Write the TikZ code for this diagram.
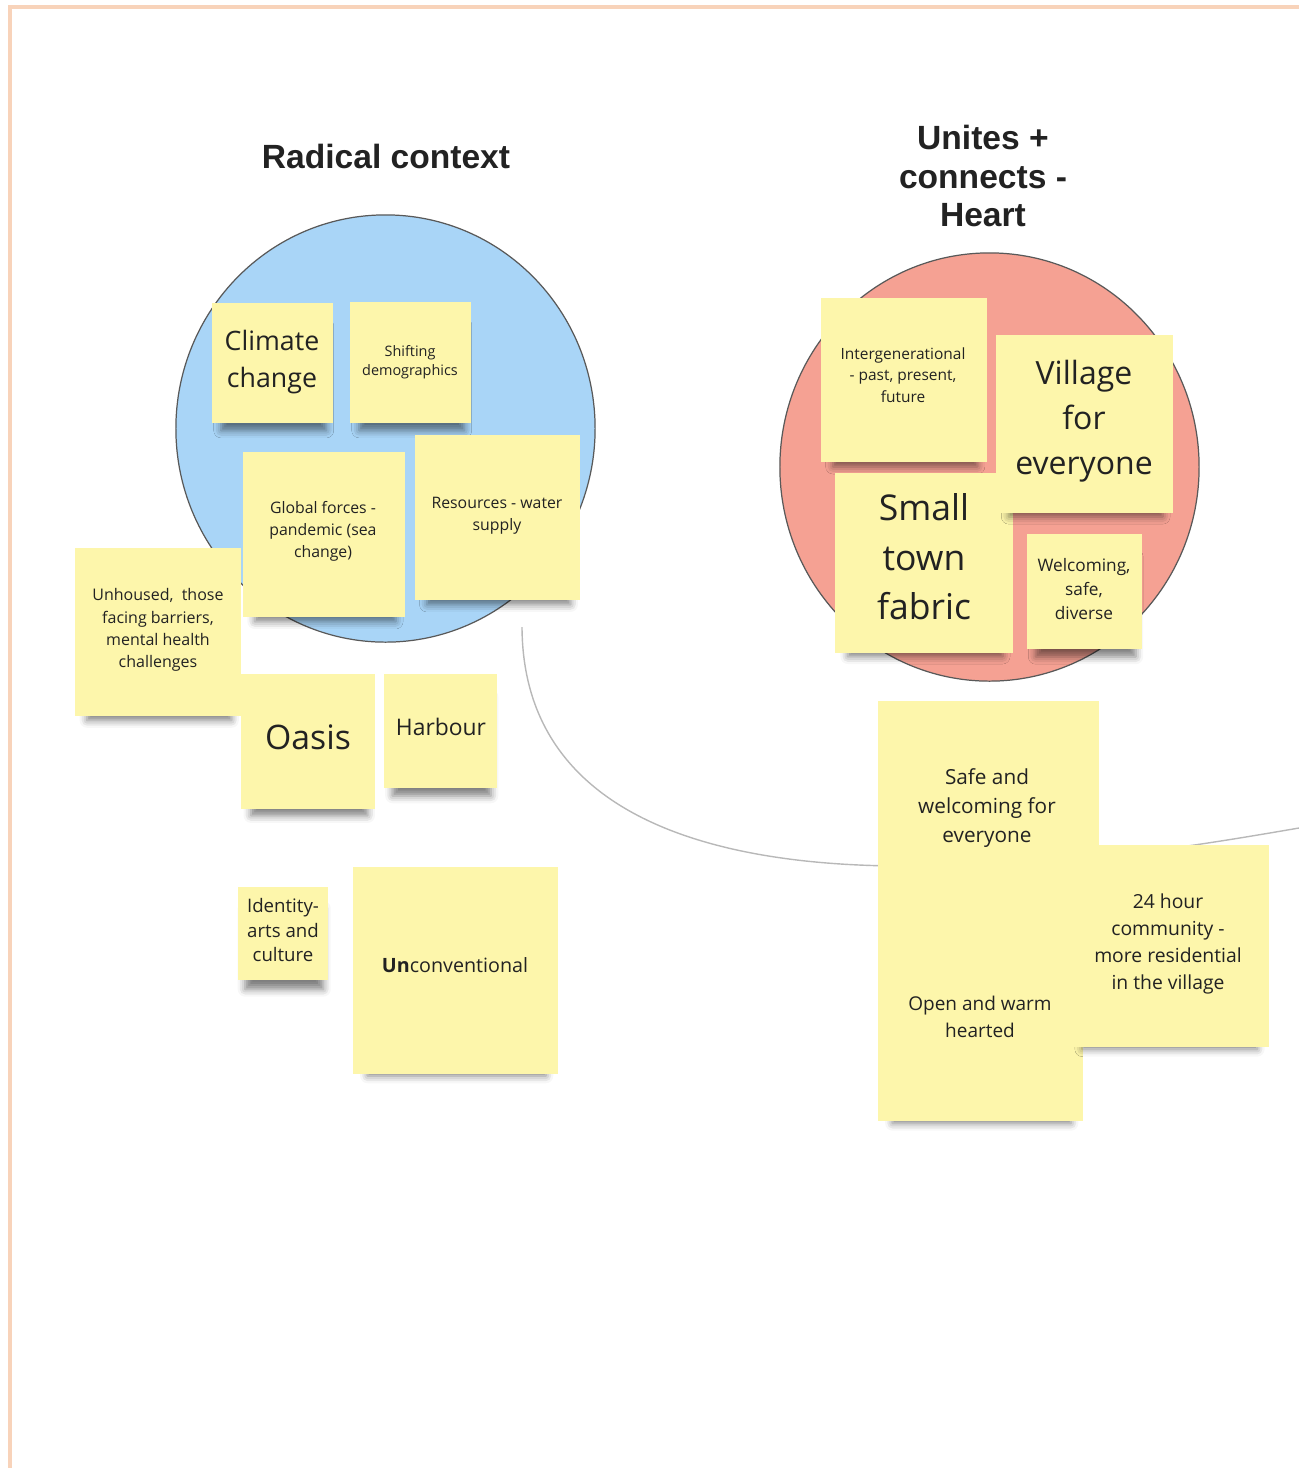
\documentclass[tikz,border=0pt]{standalone}
\usepackage{fontspec}
\setmainfont{Open Sans}
\newfontfamily\headfont{Liberation Sans}
\usetikzlibrary{shadows.blur,shapes.geometric}
\definecolor{noteyellow}{HTML}{FDF6AB}
\definecolor{ctxblue}{HTML}{A9D5F7}
\definecolor{heartred}{HTML}{F5A193}
\definecolor{framepeach}{HTML}{F8D3BA}
\definecolor{inkgray}{HTML}{222222}
\tikzset{
  flatnote/.style={fill=noteyellow, inner sep=0pt},
  note/.style={flatnote,
    blur shadow={shadow xshift=0.4pt, shadow yshift=-5pt, shadow scale=0.87,
                 shadow blur radius=2.4pt, shadow opacity=50}},
  notetext/.style={align=center, text=inkgray, inner sep=0pt},
  head/.style={align=center, text=inkgray, inner sep=0pt,
    font=\headfont\bfseries\fontsize{9.55}{11}\selectfont},
  bubble/.style={ellipse, inner sep=0pt, draw=black!65, line width=0.35pt},
  link/.style={draw=black!28, line width=0.4pt},
}
\begin{document}
\begin{tikzpicture}[x=0.01cm, y=-0.01cm]
  \useasboundingbox (0,0) rectangle (1299,1468);
  \draw[framepeach, line width=0.9pt] (10,1468) -- (10,7) -- (1299,7);

  % the two circles
  \node[bubble, fill=ctxblue, minimum width=4.19cm, minimum height=4.27cm] (radical) at (385.5,428.5) {};
  \node[bubble, fill=heartred, minimum width=4.19cm, minimum height=4.28cm] (heart) at (989.5,467) {};

  % connector, runs behind the notes and off the right edge
  \coordinate (ctx-foot) at (522,627);
  \coordinate (dip) at (900,866);
  \coordinate (edge-r) at (1299,828);
  \draw[link] (ctx-foot) .. controls (523,810) and (700,865) .. (dip)
    .. controls (1060,869) and (1200,845) .. (edge-r);

  % titles
  \node[head] (radical-head) at (386,156) {Radical context};
  \node[head] (heart-head) at (983,176) {Unites +\\connects -\\Heart};

  % radical context notes
  \node[note, minimum width=1.21cm, minimum height=1.20cm] (climate) at (272.5,363) {};
  \node[notetext, font=\fontsize{7.6}{10.5}\selectfont] (climate-t) at (272,362) {Climate\\change};
  \node[note, minimum width=1.21cm, minimum height=1.21cm] (shifting) at (410.5,362.5) {};
  \node[notetext, font=\fontsize{4.1}{5.5}\selectfont] (shifting-t) at (410,362) {Shifting\\demographics};
  \node[note, minimum width=1.62cm, minimum height=1.65cm] (global) at (324,534.5) {};
  \node[notetext, font=\fontsize{4.5}{6.25}\selectfont] (global-t) at (323,531) {Global forces -\\pandemic (sea\\change)};
  \node[note, minimum width=1.65cm, minimum height=1.65cm] (resources) at (497.5,517.5) {};
  \node[notetext, font=\fontsize{4.5}{6.25}\selectfont] (resources-t) at (497,516) {Resources - water\\supply};
  \node[note, minimum width=1.66cm, minimum height=1.68cm] (unhoused) at (158,632) {};
  \node[notetext, font=\fontsize{4.55}{6.35}\selectfont] (unhoused-t) at (158,630) {Unhoused,\ \ those\\facing barriers,\\mental health\\challenges};
  \node[note, minimum width=1.34cm, minimum height=1.35cm] (oasis) at (308,741.5) {};
  \node[notetext, font=\fontsize{9.6}{13}\selectfont] (oasis-t) at (308,737) {Oasis};
  \node[note, minimum width=1.13cm, minimum height=1.14cm] (harbour) at (440.5,731) {};
  \node[notetext, font=\fontsize{6.5}{9}\selectfont] (harbour-t) at (441,727) {Harbour};
  \node[note, minimum width=0.90cm, minimum height=0.93cm] (identity) at (283,933.5) {};
  \node[notetext, font=\fontsize{5.3}{7.1}\selectfont] (identity-t) at (283,930) {Identity-\\arts and\\culture};
  \node[note, minimum width=2.05cm, minimum height=2.07cm] (unconv) at (455.5,970.5) {};
  \node[notetext, font=\fontsize{5.6}{7.6}\selectfont] (unconv-t) at (455,965) {\textbf{Un}conventional};

  % heart notes
  \node[note, minimum width=1.66cm, minimum height=1.64cm] (intergen) at (904,380) {};
  \node[notetext, font=\fontsize{4.4}{6.1}\selectfont] (intergen-t) at (903,375) {Intergenerational\\- past, present,\\future};
  \node[note, minimum width=1.78cm, minimum height=1.80cm] (smalltown) at (924,563) {};
  \node[notetext, font=\fontsize{10.1}{14.1}\selectfont] (smalltown-t) at (924,557) {Small\\town\\fabric};
  \node[note, minimum width=1.77cm, minimum height=1.78cm] (village) at (1084.5,424) {};
  \node[notetext, font=\fontsize{9.1}{12.8}\selectfont] (village-t) at (1084,421) {Village\\for\\everyone};
  \node[note, minimum width=1.15cm, minimum height=1.15cm] (welcoming) at (1084.5,591.5) {};
  \node[notetext, font=\fontsize{4.9}{6.8}\selectfont] (welcoming-t) at (1084,589) {Welcoming,\\safe,\\diverse};

  % notes below the heart
  \node[note, minimum width=2.05cm, minimum height=2.01cm] (openwarm) at (980.5,1020.5) {};
  \node[notetext, font=\fontsize{5.4}{7.7}\selectfont] (openwarm-t) at (980,1017) {Open and warm\\hearted};
  \node[flatnote, minimum width=2.21cm, minimum height=2.21cm] (safe) at (988.5,811.5) {};
  \node[notetext, font=\fontsize{5.9}{8.25}\selectfont] (safe-t) at (987,808) {Safe and\\welcoming for\\everyone};
  \node[note, minimum width=2.01cm, minimum height=2.02cm] (hour) at (1168.5,946) {};
  \node[notetext, font=\fontsize{5.5}{7.7}\selectfont] (hour-t) at (1168,944) {24 hour\\community -\\more residential\\in the village};
\end{tikzpicture}
\end{document}
